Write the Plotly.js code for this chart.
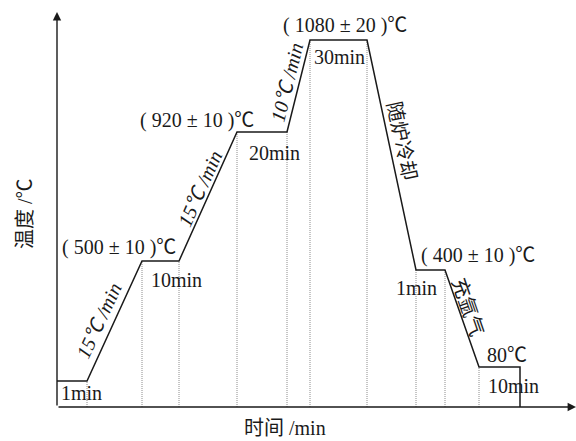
<!DOCTYPE html>
<html>
<head>
<meta charset="utf-8">
<script src="https://cdn.plot.ly/plotly-3.0.1.min.js"></script>
<style>html,body{margin:0;padding:0;background:#fff;}#chart{width:576px;height:441px;}</style>
</head>
<body>
<div id="chart"></div>
<script>
// Schematic process curve (arbitrary axis units)
const stageTime  = [0, 30, 85, 122, 180, 230, 253, 310, 359, 388, 422, 463, 463];
const stageLevel = [26, 26, 146, 146, 275, 275, 367, 367, 137, 137, 40, 40, 0];
// indices of breakpoints that get a dotted drop line
const dropIdx = [1, 2, 3, 4, 5, 6, 7, 8, 9, 10];

const tempLabels = ["( 500 ± 10 )℃", "( 920 ± 10 )℃", "( 1080 ± 20 )℃", "( 400 ± 10 )℃", "80℃"];
const tempLabelX = [62, 140, 288, 421, 450];
const tempLabelY = [162, 289, 384, 154, 54];

const holdLabels = ["1min", "10min", "20min", "30min", "1min", "10min"];
const holdLabelX = [24, 119.5, 217, 282, 359, 456];
const holdLabelY = [14, 127, 254, 350, 119, 21];

const rateLabels = ["15℃ /min", "15℃ /min", "10℃ /min", "随炉冷却", "充氩气"];
const rateLabelX = [40, 141, 228, 345, 411];
const rateLabelY = [87, 219, 325, 266, 100];
const rateAngle  = [-65, -66, -76, 78, 71];
const rateItalic = [true, true, true, false, false];

const xAxisTitle = "时间 /min";
const yAxisTitle = "温度 /℃";

const FONT = "'Liberation Serif', 'Times New Roman', 'Noto Sans CJK SC', serif";
const CJK = "'Noto Sans CJK SC'";
const FS = 20;
const INK = '#1a1a1a';

function fmt(t) { return t.replace(/℃/g, '<span style="font-family:' + CJK + '">℃</span>'); }

const dropX = [], dropY = [];
dropIdx.forEach(i => { dropX.push(stageTime[i], stageTime[i], null); dropY.push(0, stageLevel[i], null); });

const traces = [
  {x: dropX, y: dropY, mode: 'lines', line: {color: '#8c8c8c', width: 1, dash: '1px,1px'}, hoverinfo: 'skip', showlegend: false, cliponaxis: false},
  {x: stageTime, y: stageLevel, mode: 'lines', line: {color: INK, width: 1.5}, hoverinfo: 'skip', showlegend: false, cliponaxis: false}
];

const base = {showarrow: false, xanchor: 'center', yanchor: 'middle', font: {family: FONT, size: FS, color: INK}};
const ann = [];
tempLabels.forEach((t, i) => ann.push(Object.assign({}, base, {x: tempLabelX[i], y: tempLabelY[i], xref: 'x', yref: 'y', text: fmt(t)})));
holdLabels.forEach((t, i) => ann.push(Object.assign({}, base, {x: holdLabelX[i], y: holdLabelY[i], xref: 'x', yref: 'y', text: t})));
rateLabels.forEach((t, i) => ann.push(Object.assign({}, base, {x: rateLabelX[i], y: rateLabelY[i], xref: 'x', yref: 'y', textangle: rateAngle[i], text: rateItalic[i] ? '<i>' + fmt(t) + '</i>' : t})));
// axis arrows
ann.push({x: 0, y: 395, ax: 0, ay: 0, axref: 'x', ayref: 'y', xref: 'x', yref: 'y', text: '', showarrow: true, arrowhead: 2, arrowsize: 1.2, arrowwidth: 1.4, arrowcolor: INK, standoff: 0});
ann.push({x: 519, y: 0, ax: 0, ay: 0, axref: 'x', ayref: 'y', xref: 'x', yref: 'y', text: '', showarrow: true, arrowhead: 2, arrowsize: 1.2, arrowwidth: 1.4, arrowcolor: INK, standoff: 0});

const L = 57, T = 12, W = 519, H = 395;
// axis titles (positions given in page pixels, converted to paper fractions)
ann.push(Object.assign({}, base, {x: (285 - L) / W, y: (T + H - 428) / H, xref: 'paper', yref: 'paper', text: xAxisTitle}));
ann.push(Object.assign({}, base, {x: (23 - L) / W, y: (T + H - 214) / H, xref: 'paper', yref: 'paper', textangle: -90, text: fmt(yAxisTitle)}));

const layout = {
  width: 576, height: 441,
  margin: {l: L, r: 576 - L - W, t: T, b: 441 - T - H},
  paper_bgcolor: '#fff', plot_bgcolor: '#fff',
  xaxis: {range: [0, W], showgrid: false, zeroline: false, showticklabels: false, ticks: '', showline: false, fixedrange: true},
  yaxis: {range: [0, H], showgrid: false, zeroline: false, showticklabels: false, ticks: '', showline: false, fixedrange: true},
  annotations: ann
};

Plotly.newPlot('chart', traces, layout, {staticPlot: true, displayModeBar: false});
</script>
</body>
</html>
